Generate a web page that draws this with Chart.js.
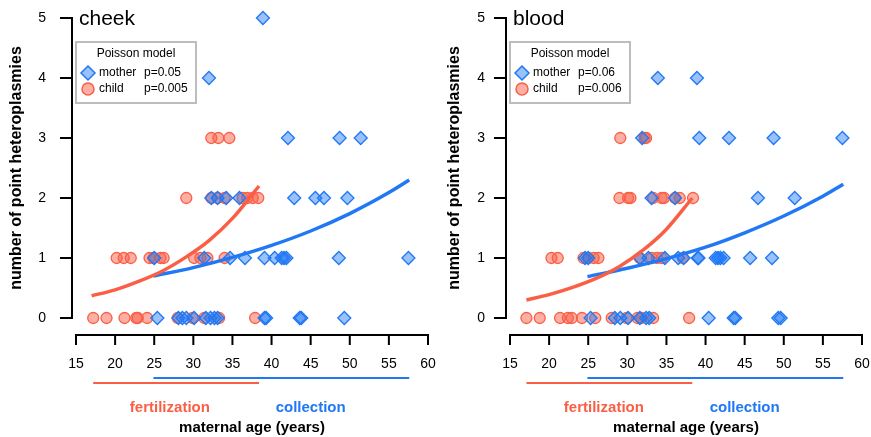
<!DOCTYPE html>
<html>
<head>
<meta charset="utf-8">
<title>heteroplasmies by maternal age</title>
<script src="https://cdn.jsdelivr.net/npm/chart.js@4.4.1/dist/chart.umd.min.js"></script>
<style>
  body { margin: 0; background: #fff; }
  .panel { position: absolute; top: 0; }
</style>
</head>
<body>
<div class="panel" style="left:0"><canvas id="cheek" width="440" height="437"></canvas></div>
<div class="panel" style="left:440px"><canvas id="blood" width="431" height="437"></canvas></div>
<script>
"use strict";

// axis ticks
const xTicks = [15, 20, 25, 30, 35, 40, 45, 50, 55, 60];
const yTicks = [0, 1, 2, 3, 4, 5];

// cheek: observed counts
const cheekMotherAge = [25.4, 28.1, 28.6, 29.1, 30.1, 31.6, 32.2, 32.7, 33.1, 39.1, 39.3, 43.6, 43.8, 49.3,
  25.0, 31.4, 34.7, 36.6, 39.1, 40.4, 41.3, 41.6, 41.9, 48.6, 57.5,
  32.3, 33.1, 34.2, 35.9, 42.9, 45.6, 46.7, 49.7,
  42.1, 48.7, 51.4,
  32.0,
  38.9];
const cheekMotherCount = [0, 0, 0, 0, 0, 0, 0, 0, 0, 0, 0, 0, 0, 0,
  1, 1, 1, 1, 1, 1, 1, 1, 1, 1, 1,
  2, 2, 2, 2, 2, 2, 2, 2,
  3, 3, 3,
  4,
  5];
const cheekChildAge = [17.2, 18.9, 21.2, 22.7, 22.9, 24.1, 28.0, 29.9, 31.4, 33.3, 37.9,
  20.2, 21.1, 22.0, 24.4, 24.9, 25.8, 26.2, 30.1, 30.9, 31.8, 34.0,
  29.1, 32.3, 33.1, 34.0, 36.3, 36.9, 37.6, 38.3,
  32.3, 33.2, 34.6];
const cheekChildCount = [0, 0, 0, 0, 0, 0, 0, 0, 0, 0, 0,
  1, 1, 1, 1, 1, 1, 1, 1, 1, 1, 1,
  2, 2, 2, 2, 2, 2, 2, 2,
  3, 3, 3];

// cheek: Poisson fits
const cheekMotherFitAge = [24.9, 30, 35, 40, 45, 50, 55, 57.6];
const cheekMotherFit = [0.70, 0.84, 1.01, 1.21, 1.45, 1.74, 2.09, 2.30];
const cheekChildFitAge = [17.0, 20, 23, 26, 29, 32, 35, 38.4];
const cheekChildFit = [0.37, 0.47, 0.61, 0.78, 1.01, 1.29, 1.66, 2.20];
const cheekFertilization = [17.2, 38.4];
const cheekCollection = [24.9, 57.6];

// blood: observed counts
const bloodMotherAge = [25.3, 28.4, 29.1, 30.1, 31.6, 32.4, 32.8, 40.4, 43.6, 43.8, 49.3, 49.6,
  24.6, 25.0, 31.6, 32.7, 34.8, 36.5, 37.2, 39.0, 39.1, 41.3, 41.6, 41.9, 42.3, 45.7, 48.5,
  33.1, 36.1, 46.7, 51.4,
  31.9, 39.2, 43.0, 48.7, 57.5,
  33.9, 38.9];
const bloodMotherCount = [0, 0, 0, 0, 0, 0, 0, 0, 0, 0, 0, 0,
  1, 1, 1, 1, 1, 1, 1, 1, 1, 1, 1, 1, 1, 1, 1,
  2, 2, 2, 2,
  3, 3, 3, 3, 3,
  4, 4];
const bloodChildAge = [17.1, 18.8, 21.4, 22.4, 22.9, 24.2, 25.9, 28.0, 29.9, 31.3, 31.8, 33.3, 37.9,
  20.3, 21.1, 24.4, 25.0, 25.7, 26.3, 31.6, 33.1, 33.8, 34.4, 37.1,
  29.0, 30.1, 30.4, 33.3, 34.4, 34.7, 36.1, 36.7, 38.4,
  29.1, 32.2, 32.4];
const bloodChildCount = [0, 0, 0, 0, 0, 0, 0, 0, 0, 0, 0, 0, 0,
  1, 1, 1, 1, 1, 1, 1, 1, 1, 1, 1,
  2, 2, 2, 2, 2, 2, 2, 2, 2,
  3, 3, 3];

// blood: Poisson fits
const bloodMotherFitAge = [24.9, 30, 35, 40, 45, 50, 55, 57.6];
const bloodMotherFit = [0.69, 0.83, 0.99, 1.18, 1.42, 1.70, 2.03, 2.23];
const bloodChildFitAge = [17.1, 20, 23, 26, 29, 32, 35, 38.3];
const bloodChildFit = [0.30, 0.39, 0.51, 0.66, 0.86, 1.13, 1.48, 2.00];
const bloodFertilization = [17.1, 38.3];
const bloodCollection = [24.9, 57.6];

const FONT = '"Liberation Sans", Arial, Helvetica, sans-serif';
const BLUE = "rgb(32, 120, 245)";
const BLUE_FILL = "rgba(32, 120, 245, 0.45)";
const RED = "rgb(250, 95, 70)";
const RED_FILL = "rgba(250, 95, 70, 0.5)";

function zip(xs, ys) {
  return xs.map(function (x, i) {
    return { x: x, y: ys[i] };
  });
}

function diamond(ctx, x, y, r) {
  ctx.beginPath();
  ctx.moveTo(x, y - r);
  ctx.lineTo(x + r, y);
  ctx.lineTo(x, y + r);
  ctx.lineTo(x - r, y);
  ctx.closePath();
}

// R-style detached axes, span bars, titles and legend box
const rAxes = {
  id: "rAxes",
  afterDraw(chart, args, o) {
    const ctx = chart.ctx;
    const xs = chart.scales.x;
    const ys = chart.scales.y;
    const area = chart.chartArea;
    ctx.save();
    ctx.strokeStyle = "#000";
    ctx.fillStyle = "#000";
    ctx.lineWidth = 2;

    // y axis
    const ax = area.left - 4;
    ctx.beginPath();
    ctx.moveTo(ax, ys.getPixelForValue(yTicks[0]) + 1);
    ctx.lineTo(ax, ys.getPixelForValue(yTicks[yTicks.length - 1]) - 1);
    yTicks.forEach(function (t) {
      const py = ys.getPixelForValue(t);
      ctx.moveTo(ax + 1, py);
      ctx.lineTo(ax - 12, py);
    });
    ctx.stroke();
    ctx.font = "14px " + FONT;
    ctx.textAlign = "right";
    ctx.textBaseline = "middle";
    yTicks.forEach(function (t) {
      ctx.fillText(String(t), ax - o.yLabelGap, ys.getPixelForValue(t));
    });

    // x axis
    const ay = area.bottom + 17;
    ctx.beginPath();
    ctx.moveTo(xs.getPixelForValue(xTicks[0]) - 1, ay);
    ctx.lineTo(xs.getPixelForValue(xTicks[xTicks.length - 1]) + 1, ay);
    xTicks.forEach(function (t) {
      const px = xs.getPixelForValue(t);
      ctx.moveTo(px, ay - 1);
      ctx.lineTo(px, ay + 10);
    });
    ctx.stroke();
    ctx.textAlign = "center";
    xTicks.forEach(function (t) {
      ctx.fillText(String(t), xs.getPixelForValue(t), ay + 29);
    });

    // fertilization / collection spans
    ctx.lineWidth = 2;
    ctx.strokeStyle = RED;
    ctx.beginPath();
    ctx.moveTo(xs.getPixelForValue(o.fertilization[0]), area.bottom + 65);
    ctx.lineTo(xs.getPixelForValue(o.fertilization[1]), area.bottom + 65);
    ctx.stroke();
    ctx.strokeStyle = BLUE;
    ctx.beginPath();
    ctx.moveTo(xs.getPixelForValue(o.collection[0]), area.bottom + 60);
    ctx.lineTo(xs.getPixelForValue(o.collection[1]), area.bottom + 60);
    ctx.stroke();

    ctx.font = "bold 15px " + FONT;
    ctx.fillStyle = RED;
    ctx.fillText("fertilization", xs.getPixelForValue(27), area.bottom + 90);
    ctx.fillStyle = BLUE;
    ctx.fillText("collection", xs.getPixelForValue(45), area.bottom + 90);
    ctx.fillStyle = "#000";
    ctx.fillText("maternal age (years)", (xs.left + xs.right) / 2, area.bottom + 110);

    // y title
    ctx.save();
    ctx.font = "bold 16px " + FONT;
    ctx.translate(o.yTitleX, (area.top + area.bottom) / 2);
    ctx.rotate(-Math.PI / 2);
    ctx.fillText("number of point heteroplasmies", 0, 0);
    ctx.restore();

    // panel title
    ctx.font = "21px " + FONT;
    ctx.textAlign = "left";
    ctx.fillText(o.title, area.left + 3, area.top + 1);

    // legend
    const lx = area.left;
    const ly = 42;
    ctx.fillStyle = "#fff";
    ctx.fillRect(lx, ly, 120, 61);
    ctx.strokeStyle = "#bdbdbd";
    ctx.lineWidth = 2;
    ctx.strokeRect(lx, ly, 120, 61);
    ctx.fillStyle = "#000";
    ctx.font = "12px " + FONT;
    ctx.textAlign = "center";
    ctx.fillText("Poisson model", lx + 60, ly + 12);
    ctx.textAlign = "left";
    ctx.fillText("mother", lx + 23, ly + 31);
    ctx.fillText(o.pMother, lx + 68, ly + 31);
    ctx.fillText("child", lx + 23, ly + 47);
    ctx.fillText(o.pChild, lx + 68, ly + 47);
    ctx.lineWidth = 1.5;
    diamond(ctx, lx + 12, ly + 31, 7);
    ctx.fillStyle = BLUE_FILL;
    ctx.fill();
    ctx.strokeStyle = BLUE;
    ctx.stroke();
    ctx.beginPath();
    ctx.arc(lx + 12, ly + 47, 6, 0, Math.PI * 2);
    ctx.fillStyle = RED_FILL;
    ctx.fill();
    ctx.strokeStyle = RED;
    ctx.stroke();
    ctx.restore();
  },
};

function makePanel(id, p) {
  return new Chart(document.getElementById(id), {
    data: {
      datasets: [
        {
          type: "line",
          data: zip(p.childFitAge, p.childFit),
          borderColor: RED,
          borderWidth: 3.5,
          pointRadius: 0,
          cubicInterpolationMode: "monotone",
          clip: false,
          order: 0,
        },
        {
          type: "line",
          data: zip(p.motherFitAge, p.motherFit),
          borderColor: BLUE,
          borderWidth: 3.5,
          pointRadius: 0,
          cubicInterpolationMode: "monotone",
          clip: false,
          order: 0,
        },
        {
          type: "scatter",
          data: zip(p.motherAge, p.motherCount),
          pointStyle: "rectRot",
          pointRadius: 6.5,
          backgroundColor: BLUE_FILL,
          borderColor: BLUE,
          borderWidth: 1.3,
          clip: false,
          order: 1,
        },
        {
          type: "scatter",
          data: zip(p.childAge, p.childCount),
          pointStyle: "circle",
          pointRadius: 5.5,
          backgroundColor: RED_FILL,
          borderColor: RED,
          borderWidth: 1.3,
          clip: false,
          order: 2,
        },
      ],
    },
    options: {
      responsive: false,
      animation: false,
      devicePixelRatio: 1,
      layout: { padding: p.padding },
      scales: {
        x: { type: "linear", min: 15, max: 60, display: false },
        y: { type: "linear", min: 0, max: 5, display: false },
      },
      plugins: {
        legend: { display: false },
        tooltip: { enabled: false },
        rAxes: {
          title: p.title,
          pMother: p.pMother,
          pChild: p.pChild,
          fertilization: p.fertilization,
          collection: p.collection,
          yTitleX: p.yTitleX,
          yLabelGap: p.yLabelGap,
        },
      },
    },
    plugins: [rAxes],
  });
}

makePanel("cheek", {
  title: "cheek",
  pMother: "p=0.05",
  pChild: "p=0.005",
  motherAge: cheekMotherAge,
  motherCount: cheekMotherCount,
  childAge: cheekChildAge,
  childCount: cheekChildCount,
  motherFitAge: cheekMotherFitAge,
  motherFit: cheekMotherFit,
  childFitAge: cheekChildFitAge,
  childFit: cheekChildFit,
  fertilization: cheekFertilization,
  collection: cheekCollection,
  yTitleX: 17,
  yLabelGap: 26,
  padding: { left: 76, right: 12, top: 18, bottom: 119 },
});

makePanel("blood", {
  title: "blood",
  pMother: "p=0.06",
  pChild: "p=0.006",
  motherAge: bloodMotherAge,
  motherCount: bloodMotherCount,
  childAge: bloodChildAge,
  childCount: bloodChildCount,
  motherFitAge: bloodMotherFitAge,
  motherFit: bloodMotherFit,
  childFitAge: bloodChildFitAge,
  childFit: bloodChildFit,
  fertilization: bloodFertilization,
  collection: bloodCollection,
  yTitleX: 15,
  yLabelGap: 21,
  padding: { left: 70, right: 9, top: 18, bottom: 119 },
});
</script>
</body>
</html>
